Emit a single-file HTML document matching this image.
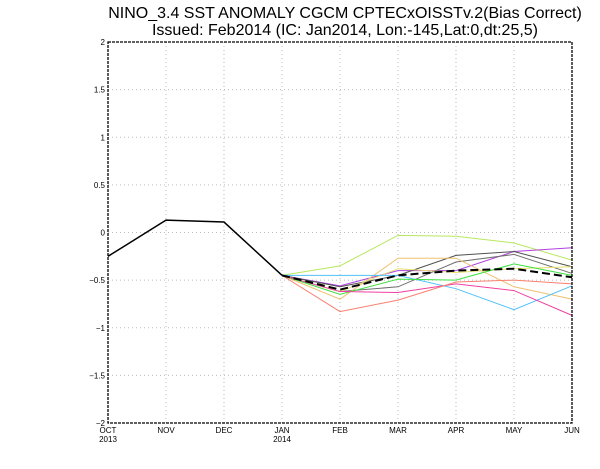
<!DOCTYPE html>
<html><head><meta charset="utf-8"><style>
body{margin:0;background:#fff;width:600px;height:464px;overflow:hidden}
svg{font-family:"Liberation Sans",sans-serif}
</style></head><body>
<svg id="c" width="600" height="464">
<text x="345" y="18" text-anchor="middle" font-size="16">NINO_3.4 SST ANOMALY CGCM CPTECxOISSTv.2(Bias Correct)</text>
<text x="345" y="35" text-anchor="middle" font-size="16">Issued: Feb2014 (IC: Jan2014, Lon:-145,Lat:0,dt:25,5)</text>
<g id="grid"></g><g id="series"></g><g id="axes"></g>
</svg>
<script>
const months=["OCT","NOV","DEC","JAN","FEB","MAR","APR","MAY","JUN"];
const years=["2013","","","2014","","","","",""];
const yTicks=[2,1.5,1,0.5,0,-0.5,-1,-1.5,-2];
const observed=[-0.25,0.13,0.11,-0.45];
const members=[
 {c:"#b8e860",v:[-0.35,-0.03,-0.04,-0.11,-0.29]},
 {c:"#b040e0",v:[-0.56,-0.40,-0.40,-0.20,-0.16]},
 {c:"#505050",v:[-0.57,-0.45,-0.24,-0.20,-0.36]},
 {c:"#707070",v:[-0.62,-0.57,-0.31,-0.23,-0.43]},
 {c:"#f0c070",v:[-0.70,-0.27,-0.27,-0.57,-0.70]},
 {c:"#e8e070",v:[-0.62,-0.38,-0.42,-0.38,-0.36]},
 {c:"#50c0f8",v:[-0.45,-0.45,-0.59,-0.81,-0.56]},
 {c:"#40e040",v:[-0.65,-0.49,-0.50,-0.33,-0.45]},
 {c:"#f040a0",v:[-0.62,-0.63,-0.54,-0.61,-0.87]},
 {c:"#f88070",v:[-0.83,-0.71,-0.52,-0.50,-0.54]}
];
const ensMean=[-0.60,-0.45,-0.40,-0.38,-0.47];
const NS="http://www.w3.org/2000/svg";
const X0=108,X1=572,Y0=42,Y1=423;
const xs=i=>X0+i*(X1-X0)/(months.length-1);
const ys=v=>Y0+(2-v)*(Y1-Y0)/4;
function mk(t,a,p){const e=document.createElementNS(NS,t);for(const k in a)e.setAttribute(k,a[k]);p.appendChild(e);return e;}
const G=document.getElementById('grid'),S=document.getElementById('series'),A=document.getElementById('axes');
yTicks.forEach(v=>{
 const l=mk('line',{x1:X0,x2:X1,y1:ys(v),y2:ys(v),stroke:'#bbb','stroke-dasharray':'1,3'},G);
 
 
 const t=mk('text',{x:X0-3,y:ys(v)+3,'text-anchor':'end','font-size':8},A);
 t.textContent=String(v).replace('-','\u2212');
 
 
});
months.forEach((m,i)=>{
 const l=mk('line',{x1:xs(i),x2:xs(i),y1:Y0,y2:Y1,stroke:'#bbb','stroke-dasharray':'1,3'},G);
 
 
 const t=mk('text',{x:xs(i),y:Y1+10,'text-anchor':'middle','font-size':8},A);
 t.textContent=m;
 
 
 if(years[i]){const y=mk('text',{x:xs(i),y:Y1+19,'text-anchor':'middle','font-size':8},A);y.textContent=years[i];
 
 }
});
const fr=mk('rect',{x:X0,y:Y0,width:X1-X0,height:Y1-Y0,fill:'none',stroke:'#000','stroke-width':1.3,'stroke-dasharray':'3,1'},A);


const start=observed.length-1;
members.forEach((m,k)=>{
 const pts=[[xs(start),ys(observed[start])]].concat(m.v.map((v,i)=>[xs(start+1+i),ys(v)]));
 const p=mk('polyline',{points:pts.join(' '),fill:'none',stroke:m.c,'stroke-width':1},S);
 
 
});
const mp=[[xs(start),ys(observed[start])]].concat(ensMean.map((v,i)=>[xs(start+1+i),ys(v)]));
const me=mk('polyline',{points:mp.join(' '),fill:'none',stroke:'#000','stroke-width':2,'stroke-dasharray':'8,4'},S);


const ob=mk('polyline',{points:observed.map((v,i)=>[xs(i),ys(v)]).join(' '),fill:'none',stroke:'#000','stroke-width':1.5},S);


</script>
</body></html>
